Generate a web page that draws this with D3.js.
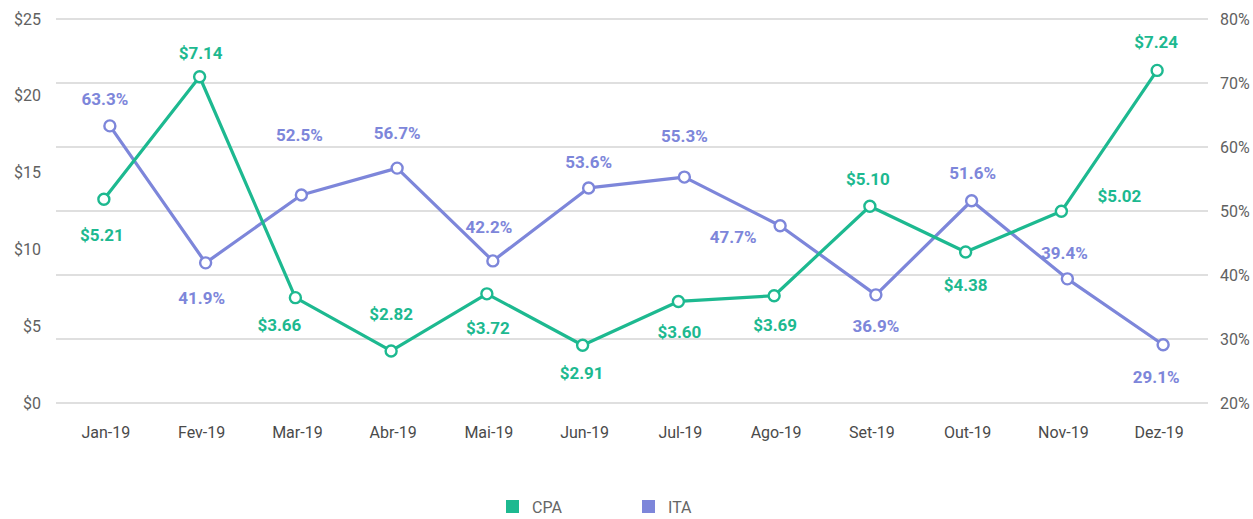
<!DOCTYPE html>
<html>
<head>
<meta charset="utf-8">
<script src="https://cdn.jsdelivr.net/npm/d3@7"></script>
<style>
  html, body { margin: 0; padding: 0; background: #fff; }
  svg { display: block; font-family: Roboto, "Noto Sans", sans-serif; }
</style>
</head>
<body>
<svg id="chart" width="1253" height="519"></svg>
<script>
// Monthly CPA (cost per acquisition, $) and ITA (%) for 2019
const months = ["Jan-19", "Fev-19", "Mar-19", "Abr-19", "Mai-19", "Jun-19",
                "Jul-19", "Ago-19", "Set-19", "Out-19", "Nov-19", "Dez-19"];
const cpaValues = [5.21, 7.14, 3.66, 2.82, 3.72, 2.91, 3.60, 3.69, 5.10, 4.38, 5.02, 7.24];
const itaValues = [63.3, 41.9, 52.5, 56.7, 42.2, 53.6, 55.3, 47.7, 36.9, 51.6, 39.4, 29.1];
const leftTicks = [0, 5, 10, 15, 20, 25];
const rightTicks = [20, 30, 40, 50, 60, 70, 80];
const seriesNames = ["CPA", "ITA"];

// Label placement relative to each point (pixels), chosen to keep labels clear of the lines
const cpaLabelOffsets = [[-2, 36], [1, -24], [-16, 27], [0, -37], [1, 34], [-1, 28],
                         [1, 31], [1, 29], [-2, -27], [0, 33], [58, -15], [-1, -28]];
const itaLabelOffsets = [[-5, -27], [-4, 35], [-2, -60], [0, -35], [-4, -34], [0, -26],
                         [0, -41], [-47, 11], [0, 31], [1, -28], [-3, -26], [-7, 32]];

const colors = { CPA: "#1db990", ITA: "#7d86da" };

const svg = d3.select("#chart");
const plotTop = 19, plotBottom = 403, plotLeft = 56, plotRight = 1208;

const x = d3.scaleBand().domain(months).range([59, 1208]).padding(0);
const yLeft = d3.scaleLinear().domain([0, 25]).range([plotBottom, plotTop]);
const yRight = d3.scaleLinear().domain([20, 80]).range([plotBottom, plotTop]);
// CPA points are plotted on their own value range
const yCpa = d3.scaleLinear().domain([2, 8.05]).range([plotBottom, plotTop]);

// Horizontal grid lines follow the percentage axis
svg.append("g")
  .selectAll("line")
  .data(rightTicks)
  .join("line")
  .attr("x1", plotLeft).attr("x2", plotRight)
  .attr("y1", d => yRight(d)).attr("y2", d => yRight(d))
  .attr("stroke", "#d4d4d4").attr("stroke-width", 1.3);

// Left axis ($)
const leftAxis = d3.axisLeft(yLeft).tickValues(leftTicks).tickFormat(d => "$" + d).tickSize(0).tickPadding(0);
svg.append("g").attr("transform", "translate(41,0)").call(leftAxis)
  .call(g => g.select(".domain").remove())
  .selectAll("text").attr("font-size", 16).attr("fill", "#616161")
  .attr("font-family", "Roboto, sans-serif");

// Right axis (%)
const rightAxis = d3.axisRight(yRight).tickValues(rightTicks).tickFormat(d => d + "%").tickSize(0).tickPadding(0);
svg.append("g").attr("transform", "translate(1220,0)").call(rightAxis)
  .call(g => g.select(".domain").remove())
  .selectAll("text").attr("font-size", 16).attr("fill", "#616161")
  .attr("font-family", "Roboto, sans-serif");

// Bottom axis (months)
const bottomAxis = d3.axisBottom(x).tickSize(0).tickPadding(0);
svg.append("g").attr("transform", "translate(-1,427)").call(bottomAxis)
  .call(g => g.select(".domain").remove())
  .selectAll("text").attr("font-size", 16).attr("fill", "#4a4a4a")
  .attr("font-family", "Roboto, sans-serif");

const cx = (m, shift) => x(m) + x.bandwidth() / 2 + shift;

const series = [
  { name: "ITA", values: itaValues, y: yRight, shift: 3, offsets: itaLabelOffsets,
    fmt: v => v.toFixed(1) + "%" },
  { name: "CPA", values: cpaValues, y: yCpa, shift: -3, offsets: cpaLabelOffsets,
    fmt: v => "$" + v.toFixed(2) }
];

series.forEach(s => {
  const pts = months.map((m, i) => ({ m, v: s.values[i], i }));
  const line = d3.line().x(d => cx(d.m, s.shift)).y(d => s.y(d.v));
  const g = svg.append("g");
  g.append("path").datum(pts)
    .attr("d", line).attr("fill", "none")
    .attr("stroke", colors[s.name]).attr("stroke-width", 3.2)
    .attr("stroke-linejoin", "round");
  g.selectAll("circle").data(pts).join("circle")
    .attr("cx", d => cx(d.m, s.shift)).attr("cy", d => s.y(d.v))
    .attr("r", 5.5).attr("fill", "#fff")
    .attr("stroke", colors[s.name]).attr("stroke-width", 2.4);
  s.pts = pts;
});

// Value labels drawn after both lines
series.forEach(s => {
  svg.append("g").selectAll("text").data(s.pts).join("text")
    .attr("x", d => cx(d.m, s.shift) + s.offsets[d.i][0])
    .attr("y", d => s.y(d.v) + s.offsets[d.i][1])
    .attr("text-anchor", "middle").attr("dominant-baseline", "central")
    .attr("font-size", 17).attr("font-weight", "bold")
    .attr("fill", colors[s.name])
    .text(d => s.fmt(d.v));
});

// Legend
const legendX = [506, 642];
const legend = svg.append("g").selectAll("g").data(seriesNames).join("g")
  .attr("transform", (d, i) => `translate(${legendX[i]},500)`);
legend.append("rect").attr("width", 13).attr("height", 13).attr("fill", d => colors[d]);
legend.append("text").attr("x", 26).attr("y", 7).attr("dominant-baseline", "central")
  .attr("font-size", 16).attr("fill", "#666").text(d => d);
</script>
</body>
</html>
